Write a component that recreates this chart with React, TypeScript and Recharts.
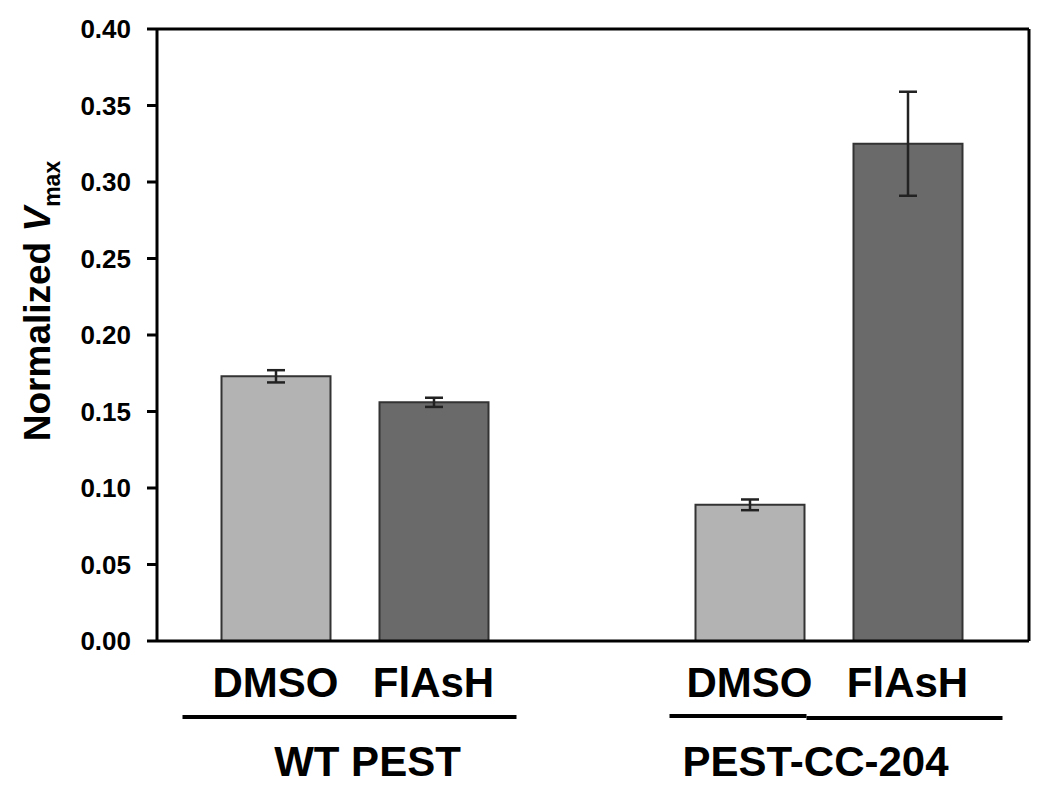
import { Bar, BarChart, Cell, ErrorBar, XAxis, YAxis } from "recharts"

// categories (the empty slot is the gap between the two groups)
const categories = ["wt-dmso", "wt-flash", "gap", "cc-dmso", "cc-flash"]
const treatments = ["DMSO", "FlAsH", "", "DMSO", "FlAsH"]
const groupNames = ["WT PEST", "PEST-CC-204"]
const vmax = [0.173, 0.156, null, 0.089, 0.325]
const vmaxErr = [0.004, 0.003, null, 0.0035, 0.034]
const yTicks = [0, 0.05, 0.1, 0.15, 0.2, 0.25, 0.3, 0.35, 0.4]

const LIGHT = "#b3b3b3"
const DARK = "#6a6a6a"
const FONT = "'Liberation Sans', Arial, sans-serif"

const data = categories.map((c, i) => ({
  key: c,
  treatment: treatments[i],
  vmax: vmax[i],
  err: vmaxErr[i],
}))

function TreatmentTick(props: any) {
  const { x, y, payload, index } = props
  const label = treatments[index] ?? ""
  const out: any[] = []
  if (label) {
    out.push(
      <text key="t" x={x} y={y + 56} textAnchor="middle" fontSize={42} fontWeight="bold" fontFamily={FONT} fill="#000">
        {label}
      </text>
    )
  }
  // group underline + name, drawn once from the first bar of each group
  if (index === 0) {
    out.push(<line key="l" x1={x - 93} x2={x + 241} y1={y + 76} y2={y + 76} stroke="#000" strokeWidth={4} />)
    out.push(
      <text key="g" x={x + 92} y={y + 135} textAnchor="middle" fontSize={42} fontWeight="bold" fontFamily={FONT} fill="#000">
        {groupNames[0]}
      </text>
    )
  }
  if (index === 3) {
    out.push(<line key="l1" x1={x - 80} x2={x + 57} y1={y + 75} y2={y + 75} stroke="#000" strokeWidth={4} />)
    out.push(<line key="l2" x1={x + 57} x2={x + 253} y1={y + 77} y2={y + 77} stroke="#000" strokeWidth={4} />)
    out.push(
      <text key="g" x={x + 66} y={y + 135} textAnchor="middle" fontSize={42} fontWeight="bold" fontFamily={FONT} fill="#000">
        {groupNames[1]}
      </text>
    )
  }
  return <g key={payload?.value}>{out}</g>
}

function ValueTick(props: any) {
  const { x, y, payload } = props
  return (
    <text
      x={x}
      y={y + 9}
      textAnchor="end"
      fill="#000"
      style={{ fontSize: "26px", fontWeight: 700, fontFamily: FONT }}
    >
      {Number(payload.value).toFixed(2)}
    </text>
  )
}

function YLabel(props: any) {
  const vb = props.viewBox || {}
  const cx = 50
  const cy = vb.y + vb.height / 2 - 34
  return (
    <text
      x={cx}
      y={cy}
      transform={`rotate(-90, ${cx}, ${cy})`}
      textAnchor="middle"
      fontSize={37}
      fontWeight="bold"
      fontFamily={FONT}
      fill="#000"
    >
      Normalized <tspan fontStyle="italic">V</tspan>
      <tspan fontSize={23} dy={10}>max</tspan>
    </text>
  )
}

export default function App() {
  return (
    <div style={{ position: "absolute", left: 0, top: 0, background: "#fff" }}>
      <BarChart
        width={1050}
        height={790}
        data={data}
        margin={{ top: 28, right: 20, left: 77, bottom: 9 }}
        barCategoryGap={0}
      >
        <XAxis
          dataKey="key"
          type="category"
          height={140}
          padding={{ left: 39.5, right: 42.5 }}
          axisLine={{ stroke: "#000", strokeWidth: 3 }}
          tickLine={false}
          tickSize={0}
          tickMargin={0}
          interval={0}
          tick={<TreatmentTick />}
        />
        <XAxis
          xAxisId="top"
          dataKey="key"
          orientation="top"
          height={1}
          tick={false}
          tickLine={false}
          axisLine={{ stroke: "#000", strokeWidth: 3 }}
        />
        <YAxis
          domain={[0, 0.4]}
          ticks={yTicks}
          width={80}
          allowDataOverflow
          axisLine={{ stroke: "#000", strokeWidth: 3 }}
          tickLine={{ stroke: "#000", strokeWidth: 3 }}
          tickSize={10}
          tickMargin={16}
          tick={<ValueTick />}
          label={<YLabel />}
        />
        <YAxis
          yAxisId="right"
          orientation="right"
          width={1}
          domain={[0, 0.4]}
          tick={false}
          tickLine={false}
          axisLine={{ stroke: "#000", strokeWidth: 3 }}
        />
        <Bar dataKey="vmax" barSize={109} stroke="#333" strokeWidth={2} isAnimationActive={false}>
          {data.map((d) => (
            <Cell key={d.key} fill={d.treatment === "DMSO" ? LIGHT : DARK} />
          ))}
          <ErrorBar dataKey="err" width={9} stroke="#222" strokeWidth={2.5} direction="y" />
        </Bar>
      </BarChart>
    </div>
  )
}
